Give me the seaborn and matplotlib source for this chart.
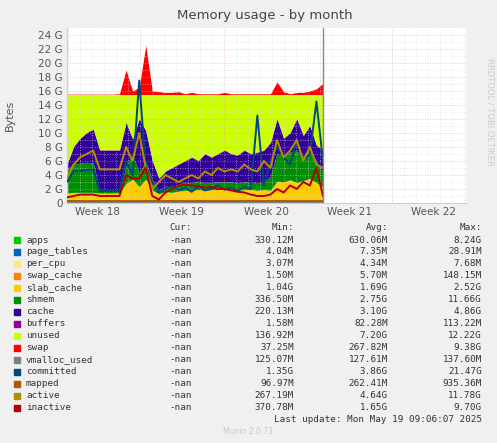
import numpy as np
import pandas as pd
import seaborn as sns
import matplotlib.pyplot as plt

sns.set_style("white")
plt.rcParams['font.family'] = ['DejaVu Sans']

# sample times in days from the left edge of the graph
days = [i * 0.547 for i in range(40)]
total_ram = 15.5

apps = [0.3, 0.3, 0.3, 0.3, 0.3, 0.3, 0.3, 0.3, 0.3, 0.3, 0.4, 0.3, 0.6, 0.3, 0.3, 0.3, 0.3, 0.3, 0.3, 0.3,
        0.3, 0.3, 0.3, 0.3, 0.3, 0.3, 0.3, 0.3, 0.3, 0.3, 0.3, 0.4, 0.3, 0.5, 0.3, 0.3, 0.4, 0.3, 0.5, 0.3]
page_tables = [0.007] * 40
per_cpu = [0.004] * 40
swap_cache = [0.005] * 40
slab_cache = [1.1, 1.2, 1.2, 1.2, 1.2, 1.1, 1.1, 1.1, 1.1, 2.5, 3.0, 2.0, 2.8, 1.5, 1.0, 1.3, 1.2, 1.4, 1.5, 1.5,
              1.6, 1.5, 1.6, 1.6, 1.7, 1.6, 1.5, 1.6, 1.6, 1.5, 1.6, 1.4, 2.8, 2.5, 3.0, 2.6, 2.8, 3.2, 2.4, 2.0]
shmem = [3.5, 4.0, 4.2, 4.3, 4.2, 0.3, 0.3, 0.3, 0.3, 2.5, 3.5, 2.0, 2.5, 1.5, 0.5, 0.8, 0.8, 1.0, 1.1, 1.1,
         1.2, 1.0, 1.0, 1.1, 1.0, 1.1, 1.0, 1.1, 1.0, 1.0, 1.1, 2.0, 4.0, 3.5, 4.0, 4.5, 3.5, 4.0, 3.0, 2.0]
cache = [0.6, 2.5, 3.5, 4.2, 4.8, 5.8, 5.8, 5.8, 5.8, 6.2, 2.2, 7.7, 4.4, 2.7, 1.7, 2.1, 2.7, 2.8, 3.1, 3.6,
         2.9, 4.2, 3.6, 4.0, 4.5, 4.0, 4.0, 4.5, 4.1, 4.4, 4.5, 4.8, 4.9, 2.7, 2.7, 4.6, 2.9, 3.5, 2.3, 3.2]
buffers = [0.08] * 40
swap = [0.05, 0.05, 0.05, 0.05, 0.05, 0.05, 0.05, 0.05, 0.1, 3.5, 0.5, 1.0, 7.0, 0.5, 0.4, 0.3, 0.3, 0.4, 0.1, 0.3,
        0.1, 0.1, 0.1, 0.1, 0.3, 0.1, 0.1, 0.1, 0.1, 0.1, 0.1, 0.1, 1.8, 0.4, 0.1, 0.3, 0.3, 0.5, 0.8, 1.6]
vmalloc_used = [0.13] * 40
committed = [3.0, 4.5, 4.6, 4.7, 4.8, 1.7, 1.7, 1.7, 1.7, 6.0, 4.0, 17.5, 5.0, 3.0, 1.5, 2.0, 2.5, 1.8, 2.2, 1.6,
             2.4, 1.8, 2.0, 2.5, 1.9, 2.2, 1.7, 2.3, 2.0, 12.5, 2.5, 6.0, 8.0, 6.5, 5.5, 9.0, 6.0, 7.0, 14.5, 6.0]
mapped = [0.25] * 40
active = [3.5, 5.5, 6.5, 7.0, 7.5, 4.8, 4.8, 4.8, 4.8, 8.0, 6.0, 10.0, 5.0, 2.0, 3.0, 4.0, 3.5, 3.0, 3.5, 4.0,
          3.5, 4.5, 4.0, 5.0, 4.5, 4.8, 4.5, 5.5, 4.8, 4.5, 6.0, 5.0, 9.0, 6.5, 7.5, 9.0, 6.0, 8.0, 5.5, 5.0]
inactive = [0.8, 1.0, 1.2, 1.2, 1.2, 1.0, 1.0, 1.0, 1.0, 4.0, 3.5, 3.5, 5.0, 1.0, 0.5, 1.5, 2.0, 2.5, 2.6, 2.5,
            2.4, 2.2, 2.3, 2.0, 2.0, 1.8, 1.6, 1.5, 1.2, 1.0, 1.0, 1.2, 2.0, 1.5, 2.5, 2.0, 3.0, 2.5, 5.0, 1.0]

unused = [total_ram - sum(v) for v in zip(apps, page_tables, per_cpu, swap_cache, slab_cache, shmem, cache, buffers)]

stack_names = ['apps', 'page_tables', 'per_cpu', 'swap_cache', 'slab_cache', 'shmem', 'cache', 'buffers', 'unused', 'swap']
stack_cols = ['#00CC00', '#0066B3', '#FFE680', '#FF8000', '#FFCC00', '#008F00', '#330099', '#990099', '#CCFF00', '#FF0000']
line_names = ['vmalloc_used', 'committed', 'mapped', 'active', 'inactive']
line_cols = ['#808080', '#00487D', '#B35A00', '#B38F00', '#B30000']

legend_rows = [
    ('apps', '330.12M', '630.06M', '8.24G'),
    ('page_tables', '4.04M', '7.35M', '28.91M'),
    ('per_cpu', '3.07M', '4.34M', '7.68M'),
    ('swap_cache', '1.50M', '5.70M', '148.15M'),
    ('slab_cache', '1.04G', '1.69G', '2.52G'),
    ('shmem', '336.50M', '2.75G', '11.66G'),
    ('cache', '220.13M', '3.10G', '4.86G'),
    ('buffers', '1.58M', '82.28M', '113.22M'),
    ('unused', '136.92M', '7.20G', '12.22G'),
    ('swap', '37.25M', '267.82M', '9.38G'),
    ('vmalloc_used', '125.07M', '127.61M', '137.60M'),
    ('committed', '1.35G', '3.86G', '21.47G'),
    ('mapped', '96.97M', '262.41M', '935.36M'),
    ('active', '267.19M', '4.64G', '11.78G'),
    ('inactive', '370.78M', '1.65G', '9.70G'),
]

df = pd.DataFrame({'day': days, 'vmalloc_used': vmalloc_used, 'committed': committed,
                   'mapped': mapped, 'active': active, 'inactive': inactive})
long = df.melt(id_vars='day', var_name='series', value_name='gb')

fig = plt.figure(figsize=(4.97, 4.43), dpi=100, facecolor='#F0F0F0')
ax = fig.add_axes([0.1348, 0.5418, 0.8028, 0.395])
ax.set_facecolor('white')

series = [apps, page_tables, per_cpu, swap_cache, slab_cache, shmem, cache, buffers, unused, swap]
ax.stackplot(days, *series, colors=stack_cols, linewidth=0, zorder=1)
sns.lineplot(data=long, x='day', y='gb', hue='series', palette=dict(zip(line_names, line_cols)),
             hue_order=line_names, linewidth=1.4, ax=ax, legend=False, zorder=3)

ax.set_xlim(0, 33.25)
ax.set_ylim(0, 25)
# dotted grid drawn over the areas, like rrdtool
for y in range(1, 25):
    ax.axhline(y, color='#e0a0a0' if y % 2 == 0 else '#d8d8d8', lw=0.6, ls=(0, (1, 2)), zorder=2, alpha=0.8)
for d in np.arange(0.08, 33.2, 1):
    wk = abs((d - 6.08) % 7) < 0.01
    ax.axvline(d, color='#e0a0a0' if wk else '#d8d8d8', lw=0.6, ls=(0, (1, 2)), zorder=2, alpha=0.8)
ax.axvline(21.33, color='#888888', lw=1, zorder=4)

ax.set_yticks(range(0, 25, 2))
ax.set_yticklabels(['0'] + [f'{v} G' for v in range(2, 25, 2)])
ax.set_xticks([2.58, 9.58, 16.58, 23.58, 30.58])
ax.set_xticklabels(['Week 18', 'Week 19', 'Week 20', 'Week 21', 'Week 22'])
ax.tick_params(length=0, labelsize=7.5, colors='#555555', pad=3)
for s in ['top', 'right']:
    ax.spines[s].set_visible(False)
for s in ['left', 'bottom']:
    ax.spines[s].set_color('#c8c8ff')
ax.set_xlabel('')
ax.set_ylabel('Bytes', fontsize=8, color='#555555')
ax.yaxis.set_label_coords(-0.13, 0.5)

fig.text(0.533, 0.957, 'Memory usage - by month', ha='center', fontsize=9.5, color='#444444')
fig.text(0.985, 0.87, 'RRDTOOL / TOBI OETIKER', rotation=270, ha='center', va='top', fontsize=6, color='#cccccc')

mono = 'DejaVu Sans Mono'
def ypos(py):
    return 1 - py / 443

fs = 6.7
fig.text(192 / 497, ypos(228), 'Cur:', ha='right', va='center', family=mono, fontsize=fs, color='#333333')
fig.text(294 / 497, ypos(228), 'Min:', ha='right', va='center', family=mono, fontsize=fs, color='#333333')
fig.text(388 / 497, ypos(228), 'Avg:', ha='right', va='center', family=mono, fontsize=fs, color='#333333')
fig.text(482 / 497, ypos(228), 'Max:', ha='right', va='center', family=mono, fontsize=fs, color='#333333')
colour_of = dict(zip(stack_names + line_names, stack_cols + line_cols))
for k, (name, mn, av, mx) in enumerate(legend_rows):
    py = 240 + k * 12
    fig.patches.append(plt.Rectangle((14 / 497, ypos(py + 3)), 6 / 497, 6 / 443, transform=fig.transFigure,
                                     color=colour_of[name]))
    fig.text(26 / 497, ypos(py), name, va='center', family=mono, fontsize=fs, color='#333333')
    fig.text(192 / 497, ypos(py), '-nan', ha='right', va='center', family=mono, fontsize=fs, color='#333333')
    fig.text(294 / 497, ypos(py), mn, ha='right', va='center', family=mono, fontsize=fs, color='#333333')
    fig.text(388 / 497, ypos(py), av, ha='right', va='center', family=mono, fontsize=fs, color='#333333')
    fig.text(482 / 497, ypos(py), mx, ha='right', va='center', family=mono, fontsize=fs, color='#333333')
fig.text(482 / 497, ypos(420), 'Last update: Mon May 19 09:06:07 2025', ha='right', va='center',
         family=mono, fontsize=fs, color='#333333')
fig.text(248 / 497, ypos(432), 'Munin 2.0.73', ha='center', va='center', fontsize=5.5, color='#c8c8c8')

fig.savefig('out.png', dpi=100, facecolor=fig.get_facecolor())
